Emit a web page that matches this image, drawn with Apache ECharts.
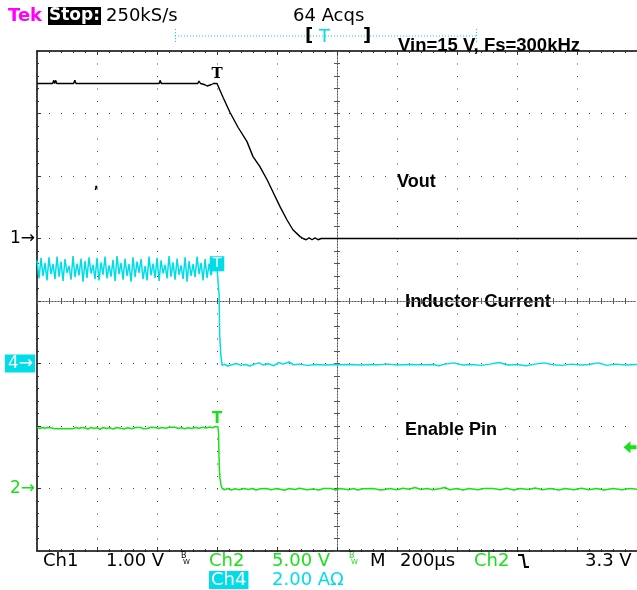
<!DOCTYPE html>
<html>
<head>
<meta charset="utf-8">
<script src="https://cdn.jsdelivr.net/npm/echarts/dist/echarts.min.js"></script>
<style>
  html, body { margin: 0; padding: 0; background: #fff; }
  #chart { width: 637px; height: 590px; }
</style>
</head>
<body>
<div id="chart"></div>
<script>
// time in µs (trigger at 0, 200 µs/div), values in channel units
var ch1Trace = [
  [-600, 2.48], [-548, 2.48], [-544, 2.53], [-541, 2.48], [-538, 2.53], [-534, 2.48],
  [-478, 2.48], [-474, 2.53], [-470, 2.48], [-193, 2.48], [-189, 2.53], [-186, 2.48],
  [-64, 2.48], [-60, 2.52], [-55, 2.48], [-40, 2.46], [-33, 2.44], [-27, 2.47], [-20, 2.46],
  [-12, 2.48], [0, 2.48], [3, 2.49], [20, 2.26], [43, 2.02], [70, 1.78], [100, 1.55],
  [120, 1.31], [143, 1.15], [167, 0.94], [187, 0.74], [210, 0.51], [233, 0.30],
  [253, 0.14], [277, 0.03], [287, 0], [297, -0.02], [307, 0.01], [317, -0.02],
  [327, 0.01], [337, -0.02], [347, 0], [528, 0], [533, -0.03], [538, 0], [845, 0],
  [850, -0.03], [855, 0], [872, 0], [877, -0.03], [882, 0], [895, 0], [900, -0.03],
  [905, 0], [982, 0], [987, -0.03], [992, 0], [1062, 0], [1067, -0.03], [1072, 0],
  [1125, 0], [1130, -0.03], [1135, 0], [1160, 0], [1165, -0.03], [1170, 0],
  [1278, 0], [1283, -0.03], [1288, 0], [1400, 0]
];

// inductor current ripple before the trigger (A), one value per sample
var ch4RippleStart = -600;
var ch4SampleUs = 6.67;
var ch4Ripple = [
  3.30, 2.72, 3.38, 2.80, 3.22, 2.66, 3.40, 2.86, 3.18, 2.70,
  3.42, 2.78, 3.26, 2.64, 3.34, 2.90, 3.12, 2.68, 3.44, 2.76,
  3.20, 2.82, 3.36, 2.62, 3.28, 2.74, 3.40, 2.88, 3.16, 2.70,
  3.38, 2.66, 3.24, 2.84, 3.42, 2.72, 3.14, 2.78, 3.32, 2.64,
  3.44, 2.86, 3.22, 2.68, 3.36, 2.80, 3.18, 2.62, 3.40, 2.76,
  3.26, 2.90, 3.34, 2.70, 3.12, 2.66, 3.42, 2.82, 3.20, 2.74,
  3.38, 2.64, 3.30, 2.88, 3.16, 2.72, 3.44, 2.78, 3.24, 2.68,
  3.36, 2.84, 3.14, 2.70, 3.40, 2.62, 3.28, 2.80, 3.18, 2.76,
  3.42, 2.86, 3.22, 2.66, 3.34, 2.74, 3.20, 2.82, 3.10, 2.96
];
var ch4After = [
  [0, 3.05], [5, 3.0], [7, 2.2], [9, 0.9], [13, 0.25], [17, -0.06], [25, -0.02],
  [35, -0.08], [50, -0.04], [65, 0.0], [80, -0.06], [95, -0.03], [110, -0.08],
  [125, -0.02], [140, 0.02], [155, -0.05], [170, -0.01], [190, -0.07], [205, 0.03],
  [220, -0.02], [240, 0.05], [255, -0.04], [275, -0.02], [300, -0.06], [330, -0.03],
  [360, -0.05], [390, -0.03], [420, -0.04], [450, -0.03], [480, -0.05], [510, -0.03],
  [540, -0.04], [570, -0.02], [600, -0.05], [640, -0.03], [680, -0.04], [720, -0.03],
  [740, -0.07], [760, -0.02], [790, 0.02], [820, -0.05], [850, -0.03], [880, -0.06],
  [910, -0.02], [940, 0.03], [970, -0.05], [1000, -0.03], [1030, -0.07], [1060, -0.02],
  [1090, 0.02], [1120, -0.04], [1150, -0.06], [1180, -0.02], [1210, -0.05],
  [1240, -0.03], [1270, 0.02], [1300, -0.06], [1330, -0.02], [1360, -0.05], [1400, -0.03]
];

var ch2Trace = [
  [-600, 4.88], [-590, 4.80], [-582, 4.88], [-575, 4.82], [-565, 4.88], [-555, 4.86],
  [-540, 4.78], [-480, 4.78], [-470, 4.88], [-460, 4.80], [-452, 4.88], [-440, 4.84],
  [-430, 4.76], [-420, 4.88], [-410, 4.80], [-400, 4.86], [-390, 4.74], [-380, 4.88],
  [-368, 4.80], [-358, 4.86], [-345, 4.76], [-335, 4.88], [-322, 4.82], [-310, 4.76],
  [-298, 4.86], [-285, 4.78], [-270, 4.88], [-255, 4.88], [-245, 4.78], [-232, 4.80],
  [-220, 4.90], [-205, 4.88], [-195, 4.80], [-185, 4.88], [-170, 4.82], [-158, 4.90],
  [-140, 4.90], [-128, 4.80], [-118, 4.86], [-108, 4.78], [-96, 4.86], [-85, 4.80],
  [-72, 4.88], [-60, 4.82], [-48, 4.90], [-36, 4.84], [-25, 4.92], [-15, 4.86],
  [-5, 4.96], [3, 4.92], [5, 4.5], [6, 3.3], [8, 1.5], [10, 0.8], [14, 0.2], [17, 0.02],
  [25, -0.1], [35, 0.0], [48, -0.12], [60, -0.02], [75, -0.1], [90, 0.0], [105, -0.08],
  [118, 0.0], [130, -0.12], [145, -0.02], [165, 0.0], [180, -0.1], [200, 0.0],
  [225, -0.14], [240, 0.0], [260, -0.08], [275, 0.02], [300, -0.1], [320, -0.04],
  [340, -0.12], [355, 0.0], [380, 0.0], [395, -0.12], [410, 0.0], [440, -0.1], [455, 0.0],
  [470, -0.12], [485, -0.02], [520, 0.0], [545, -0.12], [560, -0.08], [575, 0.0],
  [600, -0.1], [620, 0.02], [640, -0.06], [660, 0.08], [680, -0.08], [700, 0.0],
  [720, -0.1], [740, -0.02], [760, 0.08], [775, -0.1], [800, 0.0], [820, -0.12],
  [840, 0.0], [870, -0.1], [890, 0.0], [920, 0.0], [945, -0.1], [965, 0.02], [990, -0.12],
  [1010, 0.0], [1040, -0.08], [1060, 0.04], [1085, -0.1], [1110, 0.0], [1140, -0.12],
  [1160, 0.0], [1190, -0.1], [1215, 0.02], [1240, -0.1], [1265, 0.0], [1290, -0.12],
  [1320, 0.0], [1350, -0.1], [1375, 0.0], [1400, -0.06]
];

var trigLevel = 3.3; // V on Ch2

var CYAN = "#00dde8";
var GREEN = "#19e019";
var MAGENTA = "#ff00ff";
var DOT = "#444";
var SCOPE_FONT = '"DejaVu Sans"';
var LABEL_FONT = '"Liberation Sans"';

var ch4Data = ch4Ripple.map(function (v, i) {
  return [ch4RippleStart + i * ch4SampleUs, v];
}).concat(ch4After);

var myChart = echarts.init(document.getElementById("chart"));

function hidden(extra) {
  var a = {
    type: "value",
    axisLine: { show: false, onZero: false },
    axisTick: { show: false },
    axisLabel: { show: false },
    splitLine: { show: false }
  };
  for (var k in extra) a[k] = extra[k];
  return a;
}

// center cross axes (ticks every 1/5 div)
function centerAxis(range, pos, inside, zeroIdx) {
  return {
    type: "value",
    min: -range,
    max: range,
    interval: 0.2,
    position: pos,
    axisLine: {
      show: true,
      onZero: true,
      onZeroAxisIndex: zeroIdx,
      lineStyle: { color: "#555", width: 1, type: [1, 2] }
    },
    axisTick: { show: true, inside: inside, length: 3, lineStyle: { color: "#555" } },
    axisLabel: { show: false },
    splitLine: { show: false }
  };
}

// graticule border axes
function borderAxis(max, pos) {
  return {
    type: "value",
    min: 0,
    max: max,
    interval: 1,
    position: pos,
    axisLine: { show: true, onZero: false, lineStyle: { color: "#000", width: 1.5 } },
    axisTick: { show: true, inside: true, length: 4, lineStyle: { color: "#333" } },
    minorTick: { show: true, splitNumber: 5, length: 2, lineStyle: { color: "#333" } },
    axisLabel: { show: false },
    splitLine: { show: false }
  };
}

function chanAxis(min, max, interval, rich) {
  return {
    type: "value",
    min: min,
    max: max,
    interval: interval,
    position: "left",
    axisLine: { show: false, onZero: false },
    axisTick: { show: false },
    splitLine: { show: false },
    axisLabel: {
      show: true,
      margin: 2,
      formatter: function (v) { return v === 0 ? "{m|" + rich.text + "}" : ""; },
      rich: { m: rich.style }
    }
  };
}

function txt(text, x, y, fill, font, extra) {
  var s = {
    text: text, fill: fill, font: font,
    textAlign: "left", textVerticalAlign: "middle"
  };
  for (var k in extra) s[k] = extra[k];
  return { type: "text", x: x, y: y, silent: true, style: s };
}

var f18 = "18px " + SCOPE_FONT;
var bold18 = "bold 18px " + LABEL_FONT;

var option = {
  animation: false,
  backgroundColor: "#fff",
  grid: { left: 37, top: 51, width: 600, height: 500, show: false },
  xAxis: [
    hidden({
      min: -600, max: 1400, interval: 200, position: "bottom",
      splitLine: { show: true, lineStyle: { color: DOT, width: 1, type: [1, 11.5] } }
    }),
    centerAxis(5, "bottom", false, 0),
    centerAxis(5, "bottom", true, 0),
    borderAxis(10, "top"),
    borderAxis(10, "bottom")
  ],
  yAxis: [
    hidden({
      min: -4, max: 4, interval: 1, position: "left",
      splitLine: { show: true, lineStyle: { color: DOT, width: 1, type: [1, 11] } }
    }),
    centerAxis(4, "left", false, 1),
    centerAxis(4, "left", true, 1),
    borderAxis(8, "left"),
    chanAxis(-5, 3, 1, { text: "1→", style: { color: "#000", fontSize: 17, fontFamily: "DejaVu Sans" } }),
    chanAxis(-6, 10, 2, { text: "4→", style: { color: "#fff", backgroundColor: CYAN, padding: [1, 2, 0, 3], fontSize: 17, fontFamily: "DejaVu Sans" } }),
    chanAxis(-5, 35, 5, { text: "2→", style: { color: GREEN, fontSize: 17, fontFamily: "DejaVu Sans" } })
  ],
  series: [
    {
      name: "Vout",
      type: "line",
      xAxisIndex: 0,
      yAxisIndex: 4,
      data: ch1Trace,
      showSymbol: false,
      lineStyle: { color: "#000", width: 1.4 },
      markPoint: {
        symbol: "rect",
        symbolSize: 1,
        itemStyle: { color: "rgba(0,0,0,0)" },
        label: { show: true, formatter: "T", offset: [0, -9], color: "#000", fontWeight: "bold", fontSize: 15, fontFamily: "DejaVu Serif" },
        data: [{ coord: [0, ch1Trace[20][1]] }]
      }
    },
    {
      name: "Inductor Current",
      type: "line",
      xAxisIndex: 0,
      yAxisIndex: 5,
      data: ch4Data,
      showSymbol: false,
      lineStyle: { color: CYAN, width: 1.5 },
      markPoint: {
        symbol: "rect",
        symbolSize: 1,
        itemStyle: { color: "rgba(0,0,0,0)" },
        label: {
          show: true, formatter: "T", offset: [0, -6], color: "#fff",
          backgroundColor: CYAN, padding: [1, 3, 0, 3],
          fontSize: 14, fontFamily: "DejaVu Sans"
        },
        data: [{ coord: [0, 3.0] }]
      }
    },
    {
      name: "Enable Pin",
      type: "line",
      xAxisIndex: 0,
      yAxisIndex: 6,
      data: ch2Trace,
      showSymbol: false,
      lineStyle: { color: GREEN, width: 1.5 },
      markPoint: {
        symbol: "rect",
        symbolSize: 1,
        itemStyle: { color: "rgba(0,0,0,0)" },
        label: { show: true, formatter: "T", offset: [0, -8], color: GREEN, fontWeight: "bold", fontSize: 15, fontFamily: "DejaVu Sans" },
        data: [
          { coord: [0, 4.88] },
          {
            coord: [1400, trigLevel],
            symbol: "path://M0,6 L7,0 L7,4 L13,4 L13,8 L7,8 L7,12 Z",
            symbolSize: [13, 12],
            symbolOffset: [-7, 0],
            itemStyle: { color: GREEN },
            label: { show: false }
          }
        ]
      }
    }
  ],
  graphic: [
    // header
    txt("Tek", 8, 16, MAGENTA, "bold 18px " + SCOPE_FONT),
    txt("Stop:", 48, 16, "#fff", "bold 17px " + SCOPE_FONT, { backgroundColor: "#000", padding: [1, 1, 0, 1] }),
    txt("250kS/s", 106, 16, "#000", f18),
    txt("64 Acqs", 293, 16, "#000", f18),
    {
      type: "line", silent: true,
      shape: { x1: 175, y1: 36, x2: 476, y2: 36 },
      style: { stroke: CYAN, lineWidth: 1, lineDash: [1, 2] }
    },
    {
      type: "line", silent: true,
      shape: { x1: 175.5, y1: 29, x2: 175.5, y2: 43 },
      style: { stroke: CYAN, lineWidth: 1, lineDash: [1, 2] }
    },
    {
      type: "line", silent: true,
      shape: { x1: 476.5, y1: 29, x2: 476.5, y2: 43 },
      style: { stroke: CYAN, lineWidth: 1, lineDash: [1, 2] }
    },
    txt("[", 305, 36, "#000", "bold 18px " + SCOPE_FONT),
    txt("T", 319, 37, CYAN, f18),
    txt("]", 363, 36, "#000", "bold 18px " + SCOPE_FONT),
    txt("Vin=15 V, Fs=300kHz", 398, 46, "#000", "bold 18.5px " + LABEL_FONT),

    // trace labels
    txt("Vout", 397, 182, "#000", bold18),
    txt("Inductor Current", 405, 302, "#000", "bold 18.5px " + LABEL_FONT),
    txt("Enable Pin", 405, 430, "#000", bold18),
    txt(",", 94, 185, "#000", "bold 12px " + SCOPE_FONT),

    // readout row 1
    txt("Ch1", 43, 561, "#000", f18),
    txt("1.00 V", 106, 561, "#000", f18),
    txt("B", 181, 556, "#000", "8px " + SCOPE_FONT),
    txt("W", 183, 562, "#000", "7px " + SCOPE_FONT),
    txt("Ch2", 209, 561, GREEN, f18),
    txt("5.00 V", 272, 561, GREEN, f18),
    txt("B", 349, 556, GREEN, "8px " + SCOPE_FONT),
    txt("W", 351, 562, GREEN, "7px " + SCOPE_FONT),
    txt("M", 370, 561, "#000", f18),
    txt("200µs", 400, 561, "#000", f18),
    txt("Ch2", 474, 561, GREEN, f18),
    {
      type: "polyline", silent: true,
      shape: { points: [[518, 555], [523, 555], [525, 567], [529, 567]] },
      style: { stroke: "#000", lineWidth: 2, fill: null }
    },
    txt("3.3 V", 585, 561, "#000", f18),

    // readout row 2
    txt("Ch4", 209, 580, "#fff", f18, { backgroundColor: CYAN, padding: [0, 2, 0, 2] }),
    txt("2.00 AΩ", 272, 580, CYAN, f18)
  ]
};

myChart.setOption(option);
</script>
</body>
</html>
